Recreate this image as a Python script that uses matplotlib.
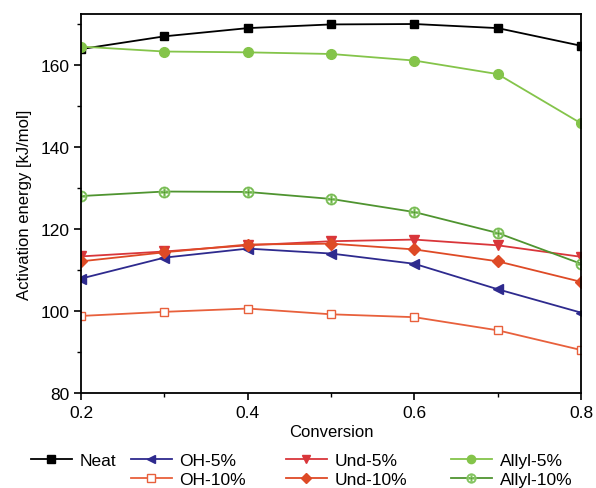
import matplotlib
matplotlib.use("Agg")
import matplotlib.pyplot as plt
from matplotlib.ticker import MultipleLocator

plt.rcParams['font.family'] = ['Liberation Sans', 'DejaVu Sans']

conversion = [0.2, 0.3, 0.4, 0.5, 0.6, 0.7, 0.8]

neat = [163.8, 166.9, 168.9, 169.8, 169.9, 168.9, 164.6]
oh_5 = [107.9, 113.0, 115.2, 114.0, 111.5, 105.3, 99.6]
oh_10 = [98.8, 99.8, 100.6, 99.2, 98.5, 95.3, 90.5]
und_5 = [113.3, 114.5, 116.0, 117.0, 117.4, 116.0, 113.2]
und_10 = [112.1, 114.3, 116.2, 116.4, 115.0, 112.1, 107.1]
allyl_5 = [164.4, 163.2, 163.0, 162.6, 161.0, 157.7, 145.7]
allyl_10 = [128.0, 129.1, 129.0, 127.3, 124.1, 119.0, 111.5]

W, H = 596, 489
fig = plt.figure(figsize=(W / 100, H / 100), dpi=100)
ax = fig.add_axes([0.136, 0.194, 0.839, 0.775])

lw = 1.3
ms = 6
h_neat, = ax.plot(conversion, neat, color='black', marker='s', ms=ms, lw=lw, label='Neat')
h_oh5, = ax.plot(conversion, oh_5, color='#2e2a8e', marker='<', ms=ms + 1, lw=lw, label='OH-5%')
h_oh10, = ax.plot(conversion, oh_10, color='#e8603c', marker='s', ms=ms, lw=lw,
                  mfc='white', mec='#e8603c', label='OH-10%')
h_und5, = ax.plot(conversion, und_5, color='#d9363a', marker='v', ms=ms + 1, lw=lw, label='Und-5%')
h_und10, = ax.plot(conversion, und_10, color='#de4a26', marker='D', ms=ms, lw=lw, label='Und-10%')
h_al5, = ax.plot(conversion, allyl_5, color='#84c44a', marker='o', ms=ms + 1, lw=lw, label='Allyl-5%')
h_al10, = ax.plot(conversion, allyl_10, color='#4f9430', marker='$\\oplus$', ms=ms + 2, lw=lw,
                  mec='#8dcc6a', mew=0.6, label='Allyl-10%')

ax.set_xlim(0.2, 0.8)
ax.set_ylim(80, 172.3)
ax.xaxis.set_major_locator(MultipleLocator(0.2))
ax.xaxis.set_minor_locator(MultipleLocator(0.1))
ax.yaxis.set_major_locator(MultipleLocator(20))
ax.yaxis.set_minor_locator(MultipleLocator(10))
ax.tick_params(which='both', direction='out', top=False, right=False, labelsize=12.5)
ax.tick_params(which='major', length=5, width=1.2)
ax.tick_params(which='minor', length=3, width=1)
for s in ax.spines.values():
    s.set_linewidth(1.3)

ax.set_xlabel('Conversion', fontsize=12, labelpad=3)
ax.set_ylabel('Activation energy [kJ/mol]', fontsize=12, labelpad=6)

# legend below the axes, one small legend per column
columns = [([h_neat], 31), ([h_oh5, h_oh10], 131), ([h_und5, h_und10], 286), ([h_al5, h_al10], 451)]
for hs, x0 in columns:
    fig.legend(hs, [h.get_label() for h in hs], loc='upper left',
               bbox_to_anchor=(x0 / W, 1 - 454 / H), frameon=False, fontsize=12.5,
               handlelength=2.35, handletextpad=0.45, labelspacing=0.2,
               borderpad=0, borderaxespad=0, markerscale=0.85)

fig.savefig('out.png', dpi=100)
